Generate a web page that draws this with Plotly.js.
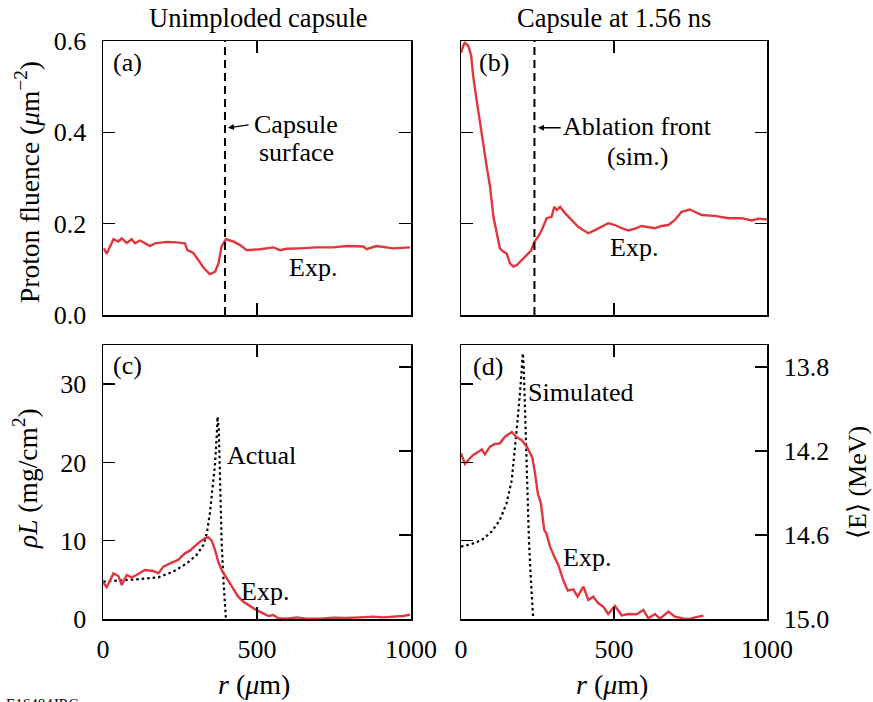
<!DOCTYPE html>
<html>
<head>
<meta charset="utf-8">
<script src="https://cdn.plot.ly/plotly-3.0.1.min.js"></script>
<style>html,body{margin:0;padding:0;background:#fff;}#chart{width:873px;height:702px;}</style>
</head>
<body>
<div id="chart"></div>
<script>
// ---------- DATA ----------
// Panel (a): unimploded capsule, proton fluence (um^-2)
const rA = [3,12,34,50,61,77,93,104,120,153,169,207,239,266,274,293,310,326,347,364,375,385,399,423,445,467,510,553,575,596,640,694,748,791,845,856,888,943,997];
const fluenceA = [0.146,0.134,0.166,0.161,0.168,0.158,0.166,0.157,0.163,0.151,0.157,0.160,0.159,0.157,0.142,0.136,0.120,0.104,0.089,0.095,0.113,0.150,0.166,0.161,0.153,0.142,0.144,0.148,0.142,0.145,0.146,0.148,0.148,0.151,0.150,0.144,0.151,0.146,0.148];
const capsuleSurfaceR = [396, 396];
const fluenceRange = [0, 0.6];

// Panel (b): capsule at 1.56 ns, proton fluence
const rB = [0,8,13,24,33,40,51,62,73,84,95,106,117,127,138,149,160,171,182,198,215,229,240,253,264,280,296,305,313,324,340,362,383,399,416,438,460,481,503,525,547,569,590,612,634,656,678,699,721,748,776,786,830,874,917,950,972,999];
const fluenceB = [0.574,0.591,0.596,0.589,0.569,0.522,0.471,0.420,0.376,0.325,0.281,0.215,0.179,0.146,0.139,0.135,0.113,0.106,0.109,0.120,0.131,0.141,0.161,0.172,0.186,0.212,0.215,0.237,0.230,0.237,0.223,0.208,0.193,0.186,0.179,0.186,0.193,0.201,0.197,0.190,0.185,0.189,0.195,0.193,0.190,0.195,0.197,0.208,0.226,0.231,0.223,0.219,0.217,0.212,0.212,0.207,0.211,0.209];
const ablationFrontR = [240, 240];

// Panel (c): rhoL (mg/cm^2), experiment and actual
const rC = [1,12,34,50,61,77,93,109,136,163,180,196,218,244,266,282,299,315,331,342,353,364,374,385,402,418,439,456,472,494,515,537,553,569,596,629,661,705,748,791,834,878,910,943,975,997];
const rhoLC = [4.64,4.05,5.83,5.49,4.34,5.62,5.32,5.62,6.26,6.13,5.83,6.69,7.11,7.54,8.39,8.73,9.33,9.88,10.30,10.43,10.01,8.81,7.32,6.26,5.19,4.13,2.85,2.21,1.79,1.23,0.81,0.38,0.51,0.09,0.04,0.21,0.04,0.04,0.17,0.13,0.21,0.30,0.21,0.30,0.38,0.55];
const rActual = [1,55,109,180,228,272,304,326,337,347,356,364,369,372,376,380,385,391,399];
const rhoLActual = [4.77,4.90,5.07,5.32,6.05,7.11,8.18,9.45,10.94,13.50,16.48,19.88,23.29,25.84,24.14,17.76,10.09,4.98,0.09];

// Panel (d): rhoL experiment and simulated
const rD = [0,13,24,40,57,68,78,95,111,127,144,166,182,198,215,233,242,251,261,272,279,291,305,318,334,349,367,381,400,416,432,449,465,481,503,525,547,574,596,612,634,650,678,699,732,748,765,792];
const rhoLD = [21.16,19.80,20.31,20.95,21.37,21.67,21.03,22.01,22.35,22.44,23.29,23.89,23.21,22.86,22.01,20.65,18.61,16.05,14.78,11.37,10.94,9.24,7.96,6.90,4.98,3.62,3.79,2.85,4.13,2.43,2.85,2.00,1.58,0.64,1.66,0.47,0.64,0.60,1.15,0.09,0.64,0.04,0.94,0.30,0.00,0.00,0.21,0.43];
const rSim = [0,35,68,100,127,149,166,176,187,196,202,205,209,215,222,229,236];
const rhoLSim = [9.24,9.58,10.09,11.16,12.65,14.78,17.76,21.59,26.27,30.53,33.94,32.23,27.12,18.61,10.09,4.56,0.09];

// Axis ticks
const rTicks = [0, 500, 1000];
const fluenceTicks = [0, 0.2, 0.4, 0.6];
const rhoLTicks = [0, 10, 20, 30];
const rhoLRange = [0, 35];
const energyTicks = [13.8, 14.2, 14.6, 15.0];
const energyRange = [15.0, 13.695];

// ---------- STYLE ----------
const FONT = '"Liberation Serif", "Times New Roman", Times, serif';
const RED = '#e0363d';
const W = 873, H = 702;
const px = x => x / W;
const py = y => 1 - y / H;

function line(x, y, xa, ya, color, dash, width) {
  return {x: x, y: y, xaxis: xa, yaxis: ya, type: 'scatter', mode: 'lines',
    line: {color: color, dash: dash || 'solid', width: width || 2.4}, showlegend: false, hoverinfo: 'skip'};
}

const traces = [
  line(rA, fluenceA, 'x', 'y', RED),
  line(capsuleSurfaceR, fluenceRange, 'x', 'y', '#000', '8px,5px', 2),
  line(rB, fluenceB, 'x2', 'y2', RED),
  line(ablationFrontR, fluenceRange, 'x2', 'y2', '#000', '8px,5px', 2),
  line(rActual, rhoLActual, 'x3', 'y3', '#000', '2.5px,3px', 2.2),
  line(rC, rhoLC, 'x3', 'y3', RED),
  line(rSim, rhoLSim, 'x4', 'y4', '#000', '2.5px,3px', 2.2),
  line(rD, rhoLD, 'x4', 'y4', RED),
  {x: [], y: [], xaxis: 'x3', yaxis: 'y5', type: 'scatter', showlegend: false},
  {x: [], y: [], xaxis: 'x4', yaxis: 'y6', type: 'scatter', showlegend: false}
];

const dLeft = [px(103), px(411)];
const dRight = [px(461), px(767)];
const dTop = [py(315), py(41)];
const dBot = [py(619), py(345)];

function xax(domain, anchor, labels) {
  return {domain: domain, anchor: anchor, range: [0, 1000], tickvals: rTicks,
    showticklabels: labels, ticks: 'inside', ticklen: 12, tickwidth: 1.5, tickcolor: '#000',
    showline: true, linecolor: '#000', linewidth: 1.5, mirror: 'ticks', showgrid: false, zeroline: false,
    tickfont: {family: FONT, size: 26, color: '#000'}, ticklabelstandoff: 6};
}
function yax(domain, anchor, range, tickvals, labels, mirror, fmt) {
  return {domain: domain, anchor: anchor, range: range, tickvals: tickvals, tickformat: fmt,
    showticklabels: labels, ticks: 'inside', ticklen: 12, tickwidth: 1.5, tickcolor: '#000',
    showline: true, linecolor: '#000', linewidth: 1.5, mirror: mirror, showgrid: false, zeroline: false,
    tickfont: {family: FONT, size: 26, color: '#000'}, ticklabelstandoff: 10};
}

const layout = {
  width: W, height: H, margin: {l: 0, r: 0, t: 0, b: 0},
  paper_bgcolor: '#fff', plot_bgcolor: 'rgba(0,0,0,0)',
  font: {family: FONT, size: 26, color: '#000'},
  showlegend: false,
  xaxis: xax(dLeft, 'y', false),
  xaxis2: xax(dRight, 'y2', false),
  xaxis3: xax(dLeft, 'y3', true),
  xaxis4: xax(dRight, 'y4', true),
  yaxis: yax(dTop, 'x', fluenceRange, fluenceTicks, true, 'ticks', '.1f'),
  yaxis2: yax(dTop, 'x2', fluenceRange, fluenceTicks, false, 'ticks', '.1f'),
  yaxis3: yax(dBot, 'x3', rhoLRange, rhoLTicks, true, true, 'd'),
  yaxis4: yax(dBot, 'x4', rhoLRange, rhoLTicks, false, true, 'd'),
  yaxis5: Object.assign(yax(dBot, 'x3', energyRange, energyTicks, false, false, '.1f'), {overlaying: 'y3', side: 'right'}),
  yaxis6: Object.assign(yax(dBot, 'x4', energyRange, energyTicks, true, false, '.1f'), {overlaying: 'y4', side: 'right'}),
  annotations: []
};

const ann = layout.annotations;
function txt(text, x, y, xref, yref, extra, size) {
  ann.push(Object.assign({text: text, x: x, y: y, xref: xref, yref: yref, showarrow: false,
    xanchor: 'center', yanchor: 'middle', font: {family: FONT, size: size || 26, color: '#000'}}, extra || {}));
}
// column titles
txt('Unimploded capsule', px(258), py(18), 'paper', 'paper', null, 26.5);
txt('Capsule at 1.56 ns', px(614), py(18), 'paper', 'paper', null, 26.5);
// axis titles
txt('Proton fluence (<i>μ</i>m<sup>−2</sup>)', px(27), py(182), 'paper', 'paper', {textangle: -90}, 27.5);
txt('<i>ρL</i> (mg/cm<sup>2</sup>)', px(25), py(479), 'paper', 'paper', {textangle: -90}, 27.5);
txt('⟨E⟩ (MeV)', px(857), py(483), 'paper', 'paper', {textangle: -90}, 26);
txt('<i>r</i> (<i>μ</i>m)', px(254), py(684), 'paper', 'paper', null, 28);
txt('<i>r</i> (<i>μ</i>m)', px(612), py(684), 'paper', 'paper', null, 28);
txt('E16484JRC', px(4), py(694), 'paper', 'paper', {xanchor: 'left', yanchor: 'top'}, 15);
// panel labels
txt('(a)', 81, 0.552, 'x', 'y');
txt('(b)', 108, 0.552, 'x2', 'y2');
txt('(c)', 81, 32.4, 'x3', 'y3');
txt('(d)', 88, 32.2, 'x4', 'y4');
// panel notes
txt('Capsule', 627, 0.418, 'x', 'y');
txt('surface', 627, 0.355, 'x', 'y');
txt('Exp.', 682, 0.103, 'x', 'y');
txt('Ablation front', 578, 0.412, 'x2', 'y2');
txt('(sim.)', 578, 0.346, 'x2', 'y2');
txt('Exp.', 565, 0.147, 'x2', 'y2');
txt('Actual', 513, 20.9, 'x3', 'y3');
txt('Exp.', 526, 3.45, 'x3', 'y3');
txt('Simulated', 392, 28.9, 'x4', 'y4');
txt('Exp.', 412, 7.8, 'x4', 'y4');
// arrows
ann.push({text: '', x: 406, y: 0.410, xref: 'x', yref: 'y', showarrow: true, ax: 22, ay: -3,
  arrowhead: 2, arrowsize: 0.9, arrowwidth: 1.3, arrowcolor: '#000', standoff: 0});
ann.push({text: '', x: 252, y: 0.410, xref: 'x2', yref: 'y2', showarrow: true, ax: 24, ay: 0,
  arrowhead: 2, arrowsize: 0.9, arrowwidth: 1.3, arrowcolor: '#000', standoff: 0});

Plotly.newPlot('chart', traces, layout, {staticPlot: true, displayModeBar: false});
</script>
</body>
</html>
